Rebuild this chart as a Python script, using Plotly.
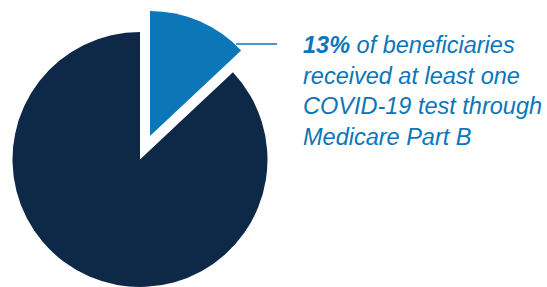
import plotly.graph_objects as go

labels = ["Received at least one COVID-19 test through Medicare Part B", "Did not receive a test"]
values = [13, 87]
slice_colors = ["#0b76b8", "#0e2847"]
callout_pct = "13%"
callout_text = "of beneficiaries<br>received at least one<br>COVID-19 test through<br>Medicare Part B"

W, H = 547, 287
clear = "rgba(0,0,0,0)"

fig = go.Figure()

# main (dark) pie, with the highlighted slice left empty
fig.add_trace(go.Pie(
    labels=labels, values=values, sort=False, direction="clockwise", rotation=0,
    marker=dict(colors=[clear, slice_colors[1]], line=dict(width=0)),
    textinfo="none", hoverinfo="label+percent", showlegend=False,
    domain=dict(x=[12 / W, 268 / W], y=[0, 1 - 32 / H]),
))
# exploded (blue) slice
fig.add_trace(go.Pie(
    labels=labels, values=values, sort=False, direction="clockwise", rotation=0,
    marker=dict(colors=[slice_colors[0], clear], line=dict(width=0)),
    textinfo="none", hoverinfo="label+percent", showlegend=False,
    domain=dict(x=[25 / W, 275 / W], y=[1 - 261 / H, 1 - 11 / H]),
))

fig.add_shape(type="line", xref="paper", yref="paper",
              x0=236 / W, x1=277 / W, y0=1 - 44 / H, y1=1 - 44 / H,
              line=dict(color=slice_colors[0], width=1.5))

fig.add_annotation(
    xref="paper", yref="paper", x=301 / W, y=1 - 30 / H,
    xanchor="left", yanchor="top", align="left", showarrow=False,
    text=f"<b><i>{callout_pct}</i></b><i> {callout_text}</i>",
    font=dict(family="Liberation Sans, Arial, sans-serif", size=23.5, color=slice_colors[0]),
)

fig.update_layout(
    width=W, height=H, margin=dict(l=0, r=0, t=0, b=0),
    paper_bgcolor="white", plot_bgcolor="white",
)

fig.write_html("out.html", config={"displayModeBar": False},
               post_script="document.body.style.margin='0';document.body.style.padding='0';")
